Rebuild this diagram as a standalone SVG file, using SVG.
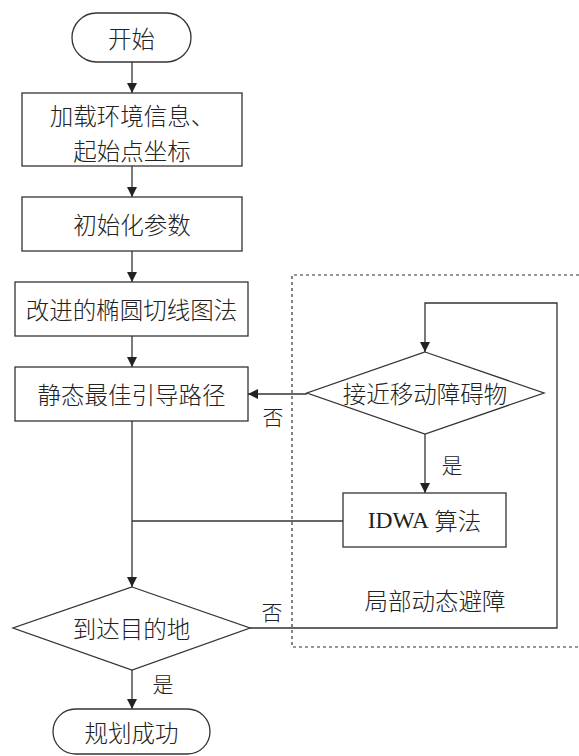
<svg xmlns="http://www.w3.org/2000/svg" width="579" height="756" viewBox="0 0 579 756">
<style>
.s{fill:#fff;stroke:#333;stroke-width:1.3}
.c{fill:none;stroke:#333;stroke-width:1.3}
.t{font-family:"Noto Sans CJK SC","Liberation Sans",sans-serif;font-size:23.5px;font-weight:300;fill:#222;text-anchor:middle;dominant-baseline:central}
.l{font-family:"Noto Sans CJK SC","Liberation Sans",sans-serif;font-size:21px;font-weight:300;fill:#222;text-anchor:middle;dominant-baseline:central}
.d{fill:none;stroke:#333;stroke-width:1.2;stroke-dasharray:3 3}
</style>
<defs>
<marker id="a" viewBox="0 0 10 10" refX="10" refY="5" markerWidth="10" markerHeight="10" markerUnits="userSpaceOnUse" orient="auto">
<path d="M0,0 L10,5 L0,10 Z" fill="#222"/>
</marker>
</defs>
<path class="d" d="M579,275 H292 V647 H579"/>
<g id="connectors">
<line class="c" x1="132" y1="62" x2="132" y2="93" marker-end="url(#a)"/>
<line class="c" x1="132" y1="166" x2="132" y2="197" marker-end="url(#a)"/>
<line class="c" x1="132" y1="251" x2="132" y2="282" marker-end="url(#a)"/>
<line class="c" x1="132" y1="336" x2="132" y2="367" marker-end="url(#a)"/>
<line class="c" x1="132" y1="421" x2="132" y2="587" marker-end="url(#a)"/>
<line class="c" x1="132" y1="521" x2="343" y2="521"/>
<line class="c" x1="307" y1="394" x2="248" y2="394" marker-end="url(#a)"/>
<line class="c" x1="425" y1="434" x2="425" y2="493" marker-end="url(#a)"/>
<path class="c" d="M250,628 H557 V303 H425 V352" marker-end="url(#a)"/>
<line class="c" x1="132" y1="670" x2="132" y2="709" marker-end="url(#a)"/>
<text class="l" x="273" y="416">否</text>
<text class="l" x="272" y="611">否</text>
<text class="l" x="452" y="464">是</text>
<text class="l" x="163" y="683">是</text>
</g>
<g id="start"><rect class="s" x="72" y="13" width="119" height="49" rx="24.5"/><text class="t" x="131.5" y="37.5">开始</text></g>
<g id="load"><rect class="s" x="22" y="93" width="220" height="73"/><text class="t" x="132" y="115">加载环境信息、</text><text class="t" x="132" y="150">起始点坐标</text></g>
<g id="init"><rect class="s" x="22" y="197" width="220" height="54"/><text class="t" x="132" y="224">初始化参数</text></g>
<g id="ellipse"><rect class="s" x="15" y="282" width="233" height="54"/><text class="t" x="131.5" y="309">改进的椭圆切线图法</text></g>
<g id="static"><rect class="s" x="15" y="367" width="233" height="54"/><text class="t" x="131.5" y="394">静态最佳引导路径</text></g>
<g id="near"><polygon class="s" points="425,352 544,393 425,434 307,393"/><text class="t" x="425" y="393">接近移动障碍物</text></g>
<g id="idwa"><rect class="s" x="343" y="493" width="163" height="54"/><text class="t" x="424.5" y="520"><tspan font-family="'Liberation Serif',serif" font-weight="400">IDWA</tspan> 算法</text></g>
<g id="local"><text class="t" x="435" y="600">局部动态避障</text></g>
<g id="reach"><polygon class="s" points="132,587 250,628 132,670 13,628"/><text class="t" x="131.5" y="628">到达目的地</text></g>
<g id="end"><rect class="s" x="53" y="709" width="157" height="45" rx="22.5"/><text class="t" x="131.5" y="732">规划成功</text></g>
</svg>
